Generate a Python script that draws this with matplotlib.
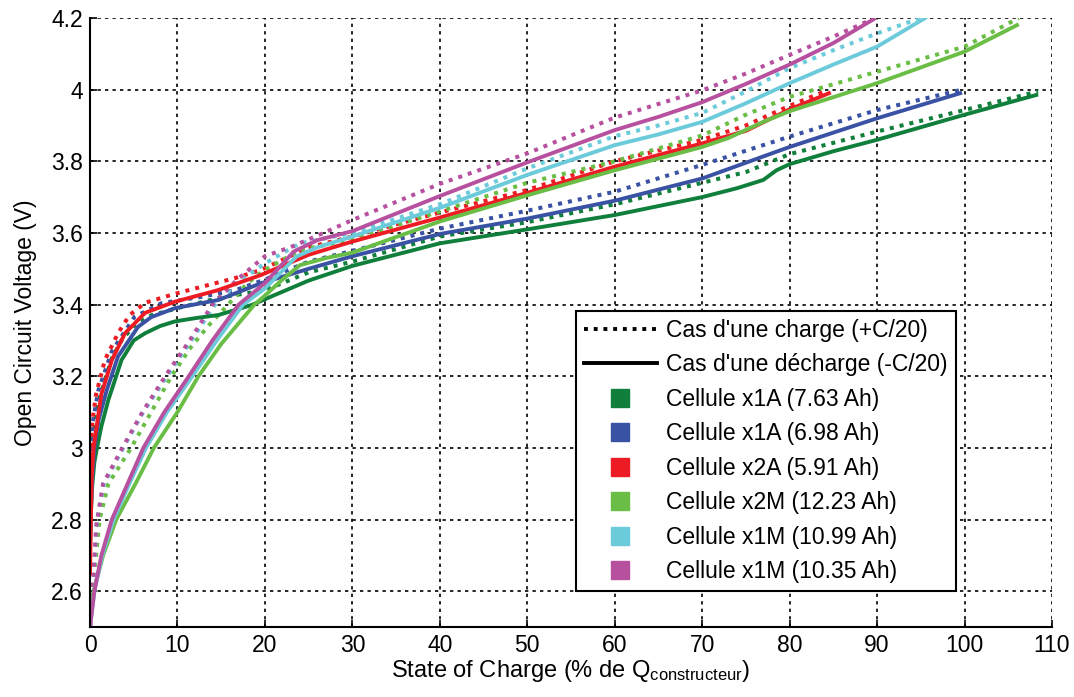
import numpy as np
import matplotlib
matplotlib.use("Agg")
import matplotlib.pyplot as plt
from matplotlib.lines import Line2D
from matplotlib.ticker import FuncFormatter

plt.rcParams['font.family'] = ['Liberation Sans', 'DejaVu Sans']
plt.rcParams['mathtext.fontset'] = 'custom'
plt.rcParams['mathtext.rm'] = 'Liberation Sans'
plt.rcParams['mathtext.it'] = 'Liberation Sans:italic'

# --- donnees (SOC en %, tension en V) ---
# Cellule x1A (7.63 Ah)
x1a_763_chg_soc = [0, 0.2, 0.5, 1, 1.7, 2.5, 3.6, 5, 7, 10, 15, 20, 25, 30, 40, 50, 60, 70, 75, 78, 80, 90, 100, 108.4]
x1a_763_chg_v = [2.8, 2.95, 3.05, 3.13, 3.19, 3.25, 3.30, 3.34, 3.37, 3.39, 3.42, 3.44, 3.49, 3.52, 3.59, 3.63, 3.68, 3.74, 3.77, 3.80, 3.82, 3.883, 3.943, 3.995]
x1a_763_dis_soc = [0, 0.2, 0.5, 0.8, 1.3, 2.1, 3.6, 5, 6.3, 8, 9.7, 12, 14.7, 18.5, 20, 25, 30, 40, 50, 60, 70, 74, 77, 78.5, 80, 85, 90, 100, 108.2]
x1a_763_dis_v = [2.75, 2.88, 2.96, 3.0, 3.06, 3.134, 3.245, 3.30, 3.32, 3.34, 3.353, 3.362, 3.371, 3.399, 3.415, 3.467, 3.508, 3.571, 3.61, 3.65, 3.70, 3.725, 3.748, 3.775, 3.792, 3.828, 3.86, 3.93, 3.985]

# Cellule x1A (6.98 Ah)
x1a_698_chg_soc = [0, 0.1, 0.3, 0.95, 2.5, 5.1, 8.2, 12.8, 16.6, 20, 25, 30, 40, 50, 60, 70, 80, 90, 99.7]
x1a_698_chg_v = [2.85, 2.98, 3.07, 3.16, 3.27, 3.366, 3.404, 3.422, 3.44, 3.47, 3.52, 3.55, 3.612, 3.662, 3.715, 3.79, 3.869, 3.943, 4.0]
x1a_698_dis_soc = [0, 0.2, 0.5, 1, 1.9, 3.2, 5.5, 7, 9.7, 14.7, 19.6, 25, 30, 40, 50, 60, 70, 80, 90, 99.5]
x1a_698_dis_v = [2.72, 2.9, 3.0, 3.08, 3.16, 3.255, 3.338, 3.365, 3.39, 3.413, 3.46, 3.50, 3.535, 3.597, 3.64, 3.69, 3.752, 3.84, 3.92, 3.99]

# Cellule x2A (5.91 Ah)
x2a_591_chg_soc = [0, 0.1, 0.3, 0.7, 1.7, 3.2, 4.5, 6.3, 9.7, 12.8, 16.6, 19.6, 25, 30, 40, 50, 60, 70, 75, 80, 84]
x2a_591_chg_v = [2.75, 3.0, 3.08, 3.15, 3.245, 3.32, 3.37, 3.405, 3.43, 3.45, 3.474, 3.497, 3.56, 3.59, 3.657, 3.72, 3.80, 3.86, 3.90, 3.955, 3.995]
x2a_591_dis_soc = [0, 0.1, 0.2, 0.4, 1.3, 2.5, 4, 6.3, 9.7, 14.6, 19.6, 25, 30, 40, 50, 60, 70, 75, 80, 84.5]
x2a_591_dis_v = [2.65, 2.8, 2.92, 3.0, 3.15, 3.245, 3.32, 3.377, 3.408, 3.44, 3.483, 3.539, 3.576, 3.643, 3.712, 3.785, 3.85, 3.885, 3.945, 3.99]

# Cellule x2M (12.23 Ah)
x2m_1223_chg_soc = [0, 0.3, 1.1, 2.1, 4.7, 7, 9.3, 11.5, 13.5, 15.8, 18, 20, 24, 29.7, 40, 50, 60, 70, 75, 80, 90, 100, 106.2]
x2m_1223_chg_v = [2.5, 2.6, 2.8, 2.9, 3.0, 3.1, 3.2, 3.28, 3.34, 3.40, 3.46, 3.497, 3.552, 3.58, 3.66, 3.74, 3.80, 3.872, 3.93, 3.98, 4.05, 4.12, 4.2]
x2m_1223_dis_soc = [0, 0.4, 1.5, 3.0, 5.2, 7.3, 10, 12.4, 15, 18.8, 20, 22, 24, 27, 30, 40, 50, 60, 70, 73, 77, 80, 90, 100, 106]
x2m_1223_dis_v = [2.5, 2.6, 2.7, 2.8, 2.9, 3.0, 3.1, 3.2, 3.29, 3.4, 3.425, 3.47, 3.51, 3.53, 3.545, 3.632, 3.705, 3.775, 3.84, 3.865, 3.91, 3.94, 4.018, 4.106, 4.18]

# Cellule x1M (10.99 Ah)
x1m_1099_chg_soc = [0, 0.3, 0.8, 1.6, 3.8, 6.1, 8.8, 11.6, 14.3, 16.8, 20, 24, 30, 40, 50, 60, 65, 70, 75, 80, 85, 90, 95]
x1m_1099_chg_v = [2.5, 2.6, 2.8, 2.9, 3.0, 3.1, 3.2, 3.3, 3.4, 3.46, 3.515, 3.571, 3.60, 3.68, 3.78, 3.87, 3.90, 3.935, 3.995, 4.06, 4.11, 4.157, 4.2]
x1m_1099_dis_soc = [0, 0.5, 1.4, 2.7, 4.5, 6.4, 8.8, 11.7, 14.5, 17.5, 20, 23.6, 26, 30, 40, 50, 60, 65, 70, 75, 80, 85, 90, 95.5]
x1m_1099_dis_v = [2.5, 2.6, 2.7, 2.8, 2.9, 3.0, 3.1, 3.2, 3.3, 3.4, 3.445, 3.534, 3.56, 3.59, 3.67, 3.762, 3.845, 3.875, 3.91, 3.962, 4.018, 4.07, 4.12, 4.2]

# Cellule x1M (10.35 Ah)
x1m_1035_chg_soc = [0, 0.3, 0.7, 1.5, 3.7, 6, 8.6, 11.4, 14, 16.8, 20, 22.9, 26.7, 30, 40, 50, 60, 65, 70, 75, 80, 85, 89.8]
x1m_1035_chg_v = [2.5, 2.6, 2.78, 2.9, 3.0, 3.1, 3.2, 3.3, 3.4, 3.469, 3.535, 3.56, 3.6, 3.636, 3.737, 3.822, 3.922, 3.96, 3.998, 4.045, 4.097, 4.148, 4.2]
x1m_1035_dis_soc = [0, 0.5, 1.3, 2.5, 4.3, 6.1, 8.5, 11.3, 14, 17, 20, 23.3, 26, 30, 40, 50, 60, 65, 70, 75, 80, 85, 89.5]
x1m_1035_dis_v = [2.5, 2.6, 2.7, 2.8, 2.9, 3.0, 3.1, 3.2, 3.3, 3.4, 3.46, 3.548, 3.58, 3.605, 3.703, 3.797, 3.887, 3.924, 3.965, 4.016, 4.07, 4.13, 4.195]

labels = ['Cellule x1A (7.63 Ah)', 'Cellule x1A (6.98 Ah)', 'Cellule x2A (5.91 Ah)',
          'Cellule x2M (12.23 Ah)', 'Cellule x1M (10.99 Ah)', 'Cellule x1M (10.35 Ah)']
colors = ['#0f7f3b', '#3a52a3', '#ed1c24', '#6abd45', '#6ccbda', '#b7519f']

charge = [(x1a_763_chg_soc, x1a_763_chg_v), (x1a_698_chg_soc, x1a_698_chg_v),
          (x2a_591_chg_soc, x2a_591_chg_v), (x2m_1223_chg_soc, x2m_1223_chg_v),
          (x1m_1099_chg_soc, x1m_1099_chg_v), (x1m_1035_chg_soc, x1m_1035_chg_v)]
decharge = [(x1a_763_dis_soc, x1a_763_dis_v), (x1a_698_dis_soc, x1a_698_dis_v),
            (x2a_591_dis_soc, x2a_591_dis_v), (x2m_1223_dis_soc, x2m_1223_dis_v),
            (x1m_1099_dis_soc, x1m_1099_dis_v), (x1m_1035_dis_soc, x1m_1035_dis_v)]

fs = 16.5

fig = plt.figure(figsize=(10.74, 6.97), dpi=100)
ax = fig.add_axes([0.0838, 0.1004, 0.8957, 0.8738])

for (s, v), c in zip(charge, colors):
    ax.plot(s, v, color=c, lw=2.9, ls=(0, (1, 1.5)))
for (s, v), c in zip(decharge, colors):
    ax.plot(s, v, color=c, lw=2.8, ls='-', solid_joinstyle='round')

ax.set_xlim(0, 110)
ax.set_ylim(2.5, 4.2)
ax.set_xticks(np.arange(0, 111, 10))
ax.set_yticks(np.arange(2.6, 4.21, 0.2))
ax.yaxis.set_major_formatter(FuncFormatter(lambda y, p: '%g' % round(y, 1)))
ax.grid(True, color='k', ls=(0, (2, 2.5)), lw=1.2)
ax.tick_params(direction='in', length=5, width=1.2, labelsize=fs, colors='k', pad=5)
for side in ['top', 'right']:
    ax.spines[side].set_visible(False)
for side in ['left', 'bottom']:
    ax.spines[side].set_linewidth(1.5)

ax.set_xlabel(r'State of Charge (% de Q$_{\mathrm{constructeur}}$)', fontsize=17, labelpad=1)
ax.set_ylabel('Open Circuit Voltage (V)', fontsize=fs, labelpad=10)

handles = [Line2D([], [], color='k', lw=2.8, ls=(0, (1, 1.5))),
           Line2D([], [], color='k', lw=2.8, ls='-')]
for c in colors:
    handles.append(Line2D([], [], color=c, marker='s', ls='none', markersize=12.5))
leg_labels = ["Cas d'une charge (+C/20)", "Cas d'une décharge (-C/20)"] + labels
leg = ax.legend(handles, leg_labels, loc='lower left', bbox_to_anchor=(0.505, 0.059),
                borderaxespad=0, fontsize=fs, frameon=True, fancybox=False,
                handlelength=3.2, labelspacing=0.5, handletextpad=0.4, borderpad=0.35)
leg.get_frame().set_edgecolor('k')
leg.get_frame().set_linewidth(1.5)
leg.get_frame().set_alpha(1)

fig.savefig('out.png', dpi=100)
